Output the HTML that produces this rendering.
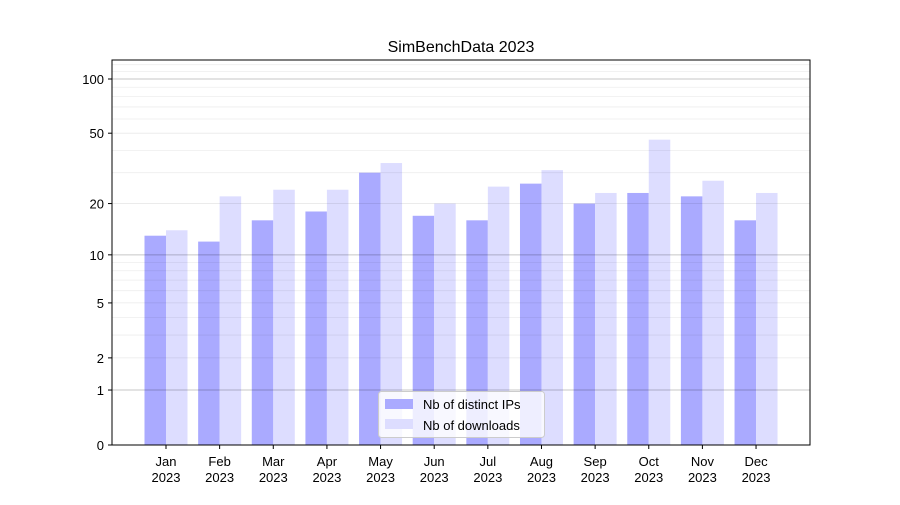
<!DOCTYPE html>
<html><head><meta charset="utf-8"><style>
body{margin:0;background:#fff;}
svg text{font-family:"Liberation Sans","DejaVu Sans",sans-serif;}
</style></head><body>
<svg width="900" height="500" xmlns="http://www.w3.org/2000/svg">
<rect width="900" height="500" fill="#fff"/>
<g id="bars"></g>
<g id="grid"></g>
<rect x="112" y="60" width="698" height="385" fill="none" stroke="#000" stroke-width="1"/>
<g id="ticks" font-size="13" fill="#000"></g>
<text x="461" y="52" font-size="16" text-anchor="middle">SimBenchData 2023</text>
<g>
<rect x="378.5" y="391.5" width="166" height="46" rx="3" fill="#fff" fill-opacity="0.8" stroke="#ccc"/>
<rect x="385" y="399" width="28" height="10" fill="#aaaaff"/>
<text x="423" y="409" font-size="13">Nb of distinct IPs</text>
<rect x="385" y="419" width="28" height="10" fill="#ddddff"/>
<text x="423" y="430" font-size="13">Nb of downloads</text>
</g>
</svg>
<script>
const ns="http://www.w3.org/2000/svg";
function Y(v){return 445-182.6*Math.log10(1+v);}
function el(p,t,a,txt){const e=document.createElementNS(ns,t);for(const k in a)e.setAttribute(k,a[k]);if(txt!==undefined)e.textContent=txt;p.appendChild(e);return e;}
const g=document.getElementById('grid'),b=document.getElementById('bars'),tk=document.getElementById('ticks');
[3,4,6,7,8,9,30,40,60,70,80,90,110,120].forEach(v=>el(g,'line',{x1:112,x2:810,y1:Y(v),y2:Y(v),stroke:'#000','stroke-opacity':0.07,'stroke-width':0.8}));
[2,5,20,50].forEach(v=>el(g,'line',{x1:112,x2:810,y1:Y(v),y2:Y(v),stroke:'#000','stroke-opacity':0.09,'stroke-width':0.8}));
[1,10,100].forEach(v=>el(g,'line',{x1:112,x2:810,y1:Y(v),y2:Y(v),stroke:'#000','stroke-opacity':0.22,'stroke-width':1}));
[0,1,2,5,10,20,50,100].forEach(v=>{const y=Y(v);el(tk,'line',{x1:108,x2:112,y1:y,y2:y,stroke:'#000'});el(tk,'text',{x:104,y:y+5,'text-anchor':'end'},String(v));});
const ip=[13,12,16,18,30,17,16,26,20,23,22,16],dl=[14,22,24,24,34,20,25,31,23,46,27,23];
const m=['Jan','Feb','Mar','Apr','May','Jun','Jul','Aug','Sep','Oct','Nov','Dec'];
for(let i=0;i<12;i++){const c=166+i*53.64;
el(b,'rect',{x:c-21.5,y:Y(ip[i]),width:21.5,height:445-Y(ip[i]),fill:'#aaaaff'});
el(b,'rect',{x:c,y:Y(dl[i]),width:21.5,height:445-Y(dl[i]),fill:'#ddddff'});
el(tk,'line',{x1:c,x2:c,y1:445,y2:449,stroke:'#000'});
el(tk,'text',{x:c,y:466,'text-anchor':'middle'},m[i]);
el(tk,'text',{x:c,y:482,'text-anchor':'middle'},'2023');}
</script>
</body></html>
